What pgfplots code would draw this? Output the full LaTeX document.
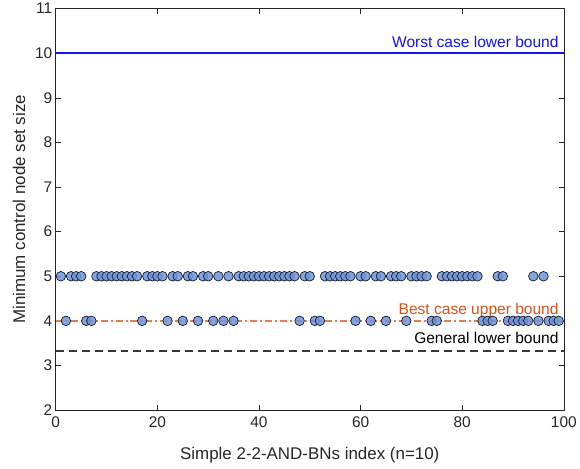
\documentclass[border=0pt]{standalone}
\usepackage{pgfplots}
\pgfplotsset{compat=1.18}
\usepackage{fontspec}
\setmainfont{Liberation Sans}
\definecolor{mkfill}{RGB}{112,148,216}
\definecolor{mkedge}{RGB}{20,25,45}
\definecolor{worst}{RGB}{20,20,240}
\definecolor{best}{RGB}{217,83,25}
\definecolor{axgray}{RGB}{38,38,38}
\begin{document}
\begin{tikzpicture}
\begin{axis}[
  scale only axis,
  width=510pt, height=403pt,
  xmin=0, xmax=100, ymin=2, ymax=11,
  xtick={0,20,40,60,80,100},
  ytick={2,3,4,5,6,7,8,9,10,11},
  tick align=inside,
  major tick length=5pt,
  axis line style={axgray, line width=0.6pt},
  tick style={axgray, line width=0.6pt},
  /pgf/number format/assume math mode=true,
  tick label style={font=\fontsize{15.5}{18}\selectfont, text=axgray},
  xticklabel style={yshift=-3pt},
  label style={font=\fontsize{17}{20}\selectfont, text=axgray},
  xlabel={Simple 2-2-AND-BNs index (n=10)},
  ylabel={Minimum control node set size},
  xlabel shift=13pt,
  ylabel shift=3pt,
  clip=false,
]
\addplot[draw=worst, line width=2pt, forget plot] coordinates {(0,10) (100,10)};
\addplot[draw=best!75, line width=2pt, dash pattern=on 7pt off 3pt on 2pt off 3pt, forget plot] coordinates {(0,4) (100,4)};
\addplot[draw=black!78, line width=2pt, dash pattern=on 8pt off 5pt, forget plot] coordinates {(0,3.3333) (100,3.3333)};
\addplot[only marks, mark=*, mark size=4.8pt,
  mark options={fill=mkfill, draw=mkedge, line width=0.7pt, fill opacity=0.85}]
  table[row sep=\\] {
x y\\
1 5\\ 2 4\\ 3 5\\ 4 5\\ 5 5\\ 6 4\\ 7 4\\ 8 5\\ 9 5\\ 10 5\\
11 5\\ 12 5\\ 13 5\\ 14 5\\ 15 5\\ 16 5\\ 17 4\\ 18 5\\ 19 5\\ 20 5\\
21 5\\ 22 4\\ 23 5\\ 24 5\\ 25 4\\ 26 5\\ 27 5\\ 28 4\\ 29 5\\ 30 5\\
31 4\\ 32 5\\ 33 4\\ 34 5\\ 35 4\\ 36 5\\ 37 5\\ 38 5\\ 39 5\\ 40 5\\
41 5\\ 42 5\\ 43 5\\ 44 5\\ 45 5\\ 46 5\\ 47 5\\ 48 4\\ 49 5\\ 50 5\\
51 4\\ 52 4\\ 53 5\\ 54 5\\ 55 5\\ 56 5\\ 57 5\\ 58 5\\ 59 4\\ 60 5\\
61 5\\ 62 4\\ 63 5\\ 64 5\\ 65 4\\ 66 5\\ 67 5\\ 68 5\\ 69 4\\ 70 5\\
71 5\\ 72 5\\ 73 5\\ 74 4\\ 75 4\\ 76 5\\ 77 5\\ 78 5\\ 79 5\\ 80 5\\
81 5\\ 82 5\\ 83 5\\ 84 4\\ 85 4\\ 86 4\\ 87 5\\ 88 5\\ 89 4\\ 90 4\\
91 4\\ 92 4\\ 93 4\\ 94 5\\ 95 4\\ 96 5\\ 97 4\\ 98 4\\ 99 4\\
};
\node[anchor=base east, text=worst, font=\fontsize{15.6}{18}\selectfont, inner sep=0pt] at (axis cs:99,10) [yshift=6pt] {Worst case lower bound};
\node[anchor=base east, text=best, font=\fontsize{15.6}{18}\selectfont, inner sep=0pt] at (axis cs:99,4) [yshift=6pt] {Best case upper bound};
\node[anchor=base east, text=black, font=\fontsize{15.6}{18}\selectfont, inner sep=0pt] at (axis cs:99,3.3333) [yshift=7pt] {General lower bound};
\end{axis}
\path (current axis.south west) ++(-56pt,-59pt);
\path (current axis.north east) ++(14pt,8pt);
\end{tikzpicture}
\end{document}
